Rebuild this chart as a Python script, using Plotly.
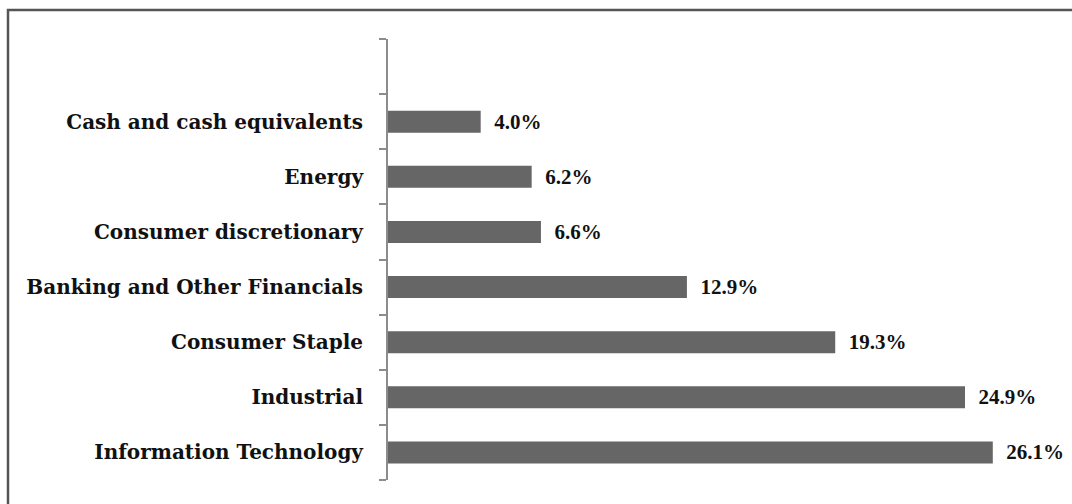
import plotly.graph_objects as go

categories = [
    "Information Technology",
    "Industrial",
    "Consumer Staple",
    "Banking and Other Financials",
    "Consumer discretionary",
    "Energy",
    "Cash and cash equivalents",
]
values = [26.1, 24.9, 19.3, 12.9, 6.6, 6.2, 4.0]
value_labels = ["26.1%", "24.9%", "19.3%", "12.9%", "6.6%", "6.2%", "4.0%"]

W, H = 1072, 504
L, R, T, B = 388, 12, 39, 24
pw, ph = W - L - R, H - T - B

def px(x):
    return (x - L) / pw

def py(y):
    return (H - B - y) / ph

times = "Liberation Serif, Times New Roman, serif"
wide_serif = "DejaVu Serif, serif"

fig = go.Figure(
    go.Bar(
        x=values,
        y=categories,
        orientation="h",
        marker=dict(color="#666666", line=dict(width=0)),
        text=["\u00a0\u00a0" + t for t in value_labels],
        textposition="outside",
        constraintext="none",
        textfont=dict(family=times, size=21, color="#111111", weight="bold"),
        cliponaxis=False,
        width=0.4,
        hoverinfo="skip",
    )
)

fig.update_layout(
    width=W,
    height=H,
    margin=dict(l=L, r=R, t=T, b=B),
    paper_bgcolor="white",
    plot_bgcolor="white",
    showlegend=False,
    xaxis=dict(range=[0, 29], visible=False, fixedrange=True),
    yaxis=dict(
        type="category",
        categoryorder="array",
        categoryarray=categories + [" "],
        range=[-0.5, 7.5],
        showline=True,
        linecolor="#8c8c8c",
        linewidth=2,
        ticks="outside",
        tickson="boundaries",
        ticklen=7,
        tickwidth=2,
        tickcolor="#8c8c8c",
        showgrid=False,
        fixedrange=True,
        ticklabelstandoff=19,
        tickfont=dict(family=wide_serif, size=20, color="#111111", weight="bold"),
    ),
    shapes=[
        dict(type="rect", xref="paper", yref="paper",
             x0=px(8), x1=px(1120), y0=py(10), y1=py(560),
             fillcolor="rgba(0,0,0,0)",
             line=dict(color="#555555", width=2.5)),
    ],
)

fig.write_html(
    "out.html",
    config={"displayModeBar": False},
    post_script=(
        "document.body.style.margin='0';"
        "document.body.style.overflow='hidden';"
        "document.documentElement.style.overflow='hidden';"
    ),
)
